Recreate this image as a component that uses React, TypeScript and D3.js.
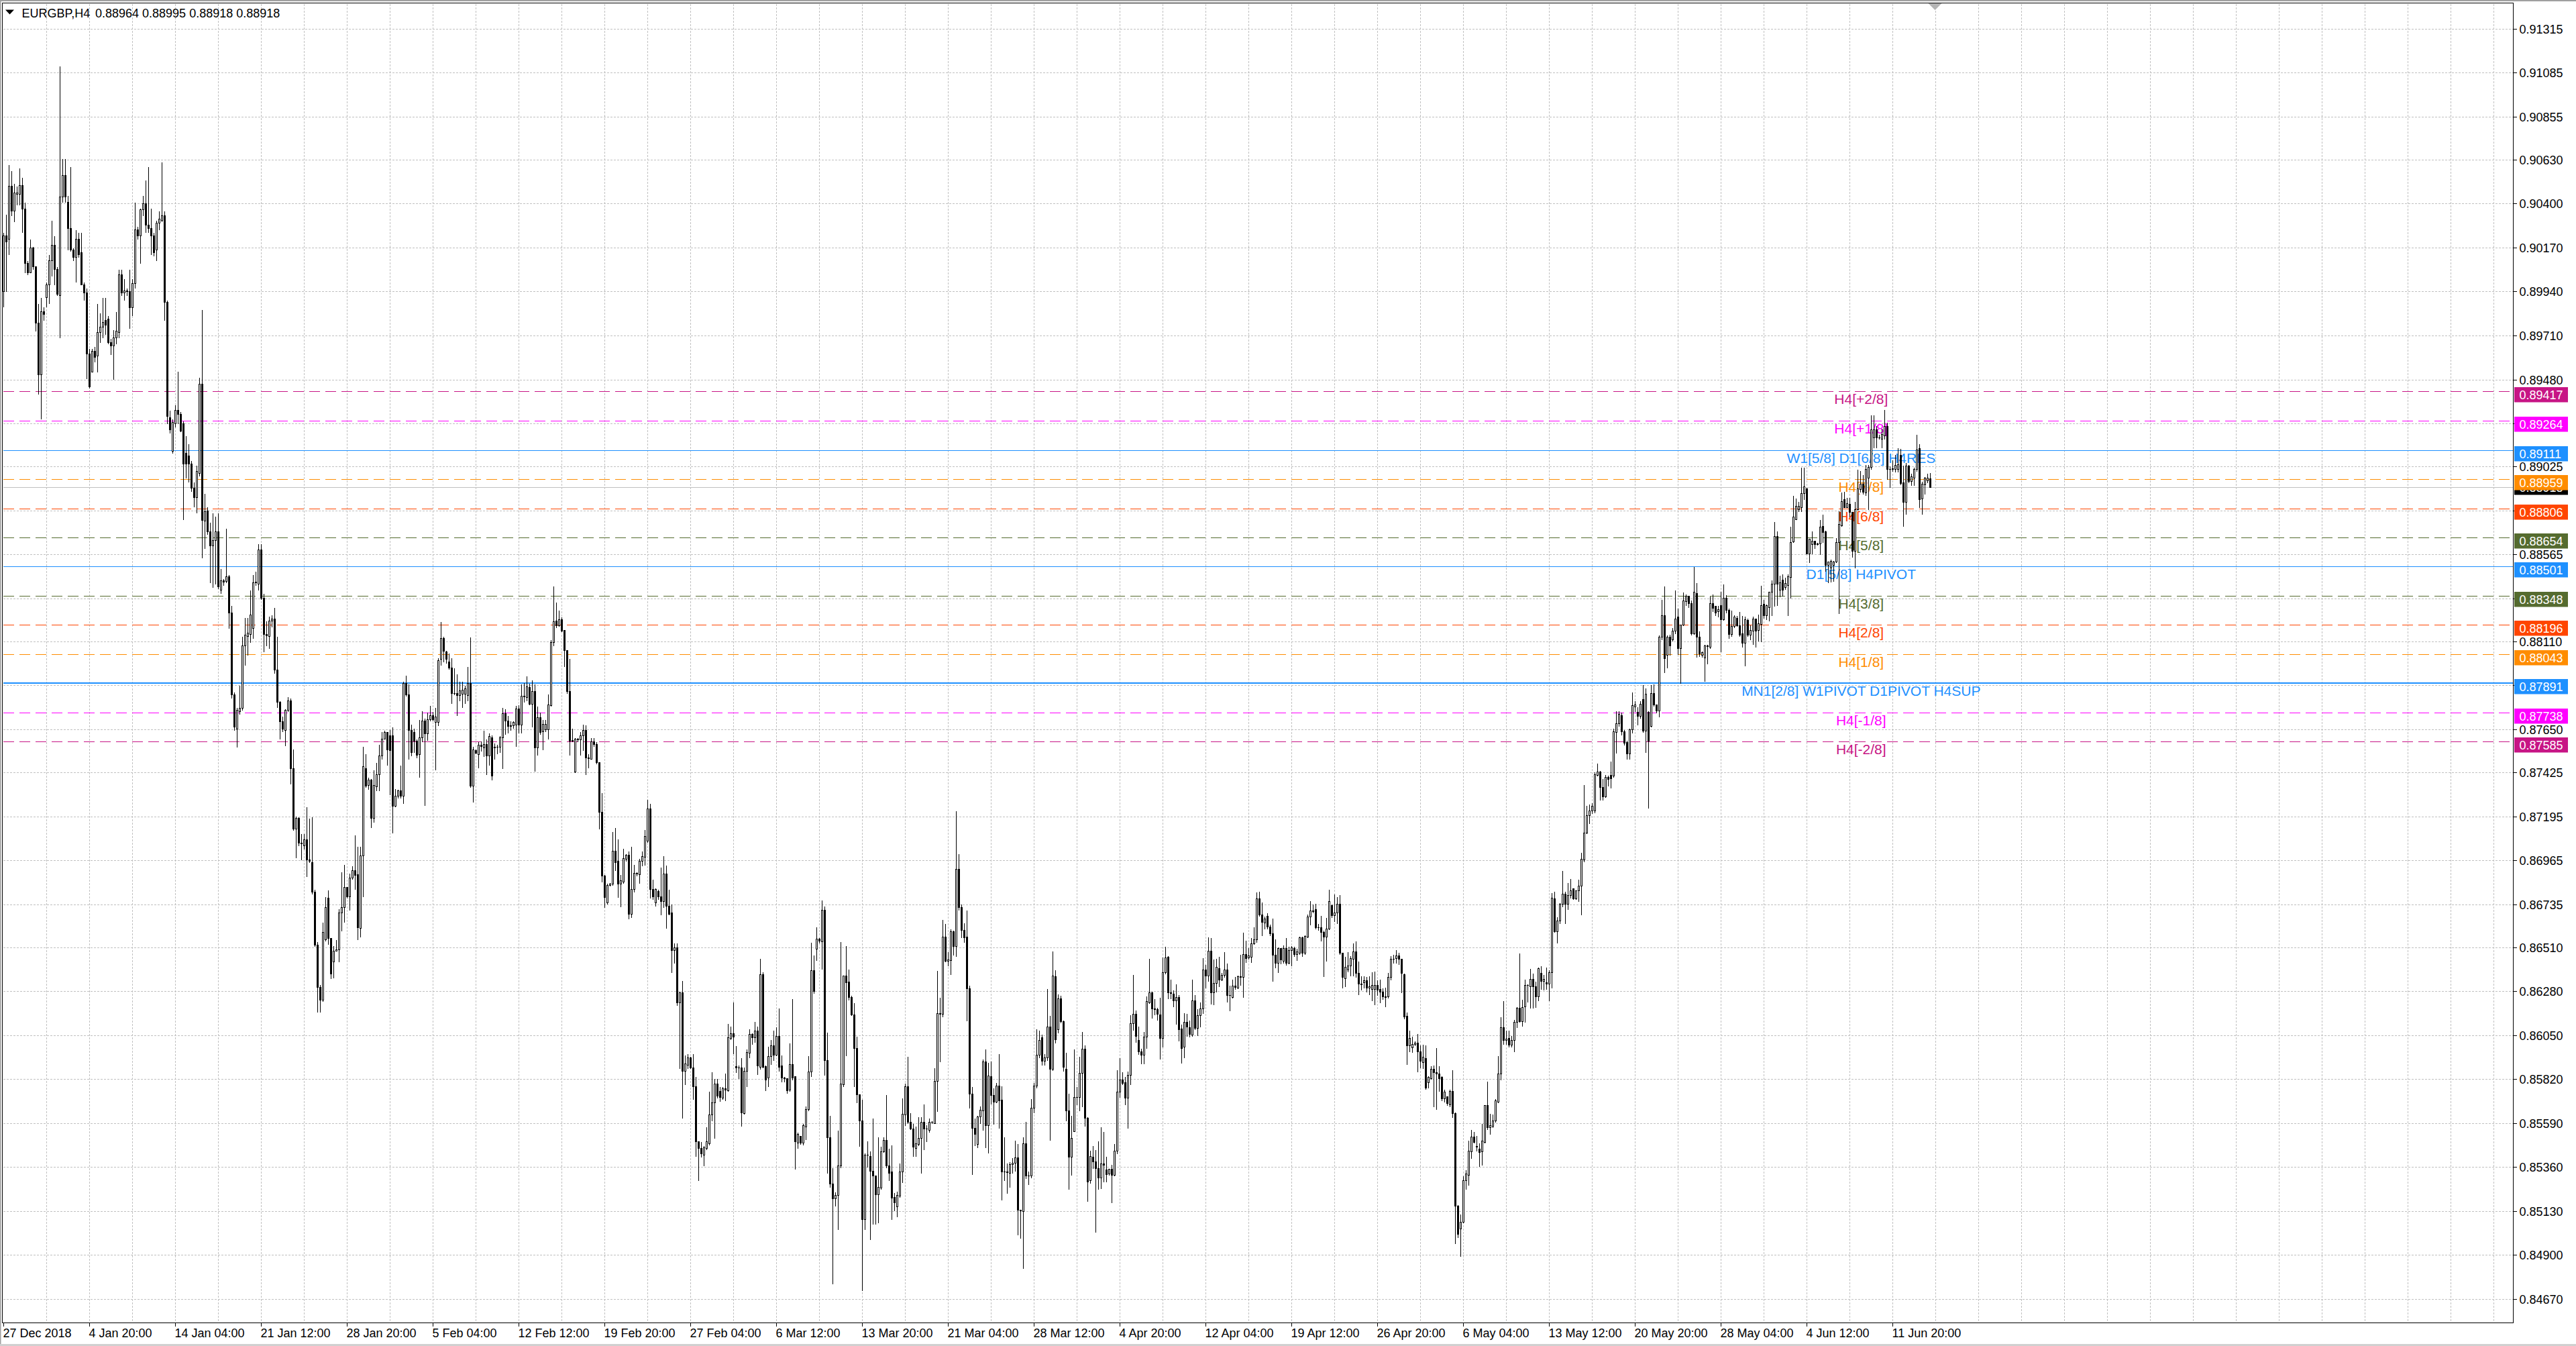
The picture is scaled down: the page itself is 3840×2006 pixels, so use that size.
import React from "react";
import * as d3 from "d3";

// ---------------- data ----------------
const symbolName = "EURGBP,H4";
const headerValues = ["0.88964", "0.88995", "0.88918", "0.88918"];
const bidPrice = 0.88918;

// H4 candles, prices in points (1e-5)
const opens = [
89943,90233,90217,90491,90362,90449,90449,90497,90372,90088,
90040,90169,90072,89775,89508,89837,89911,89975,90104,90185,
90056,89920,90436,90549,90410,90272,90159,90120,90217,90146,
89978,89933,89614,89521,89630,89604,89727,89756,89792,89798,
89675,89659,89701,89727,90030,89933,89946,89943,89856,89985,
90265,90233,90369,90401,90288,90272,90233,90159,90298,90314,
90339,89885,89282,89105,89250,89321,89298,89250,89095,89082,
89041,88912,88863,88992,89459,88741,88795,88686,88612,88638,
88686,88380,88428,88425,88451,88260,87832,87654,87745,87761,
88090,88138,88148,88180,88418,88412,88589,88338,88148,88138,
88219,88228,87961,87793,87693,87648,87751,87799,87445,87129,
87187,87058,87042,87074,86968,86955,86800,86523,86301,
86235,86552,86768,86559,86436,86490,86497,86691,86721,86825,
86775,86873,86914,86891,86610,86989,87447,87358,87386,87188,
87350,87413,87512,87602,87636,87617,87617,87250,87301,87331,
87301,87891,87833,87645,87636,87591,87521,87606,87697,87630,
87702,87725,87690,87687,88019,88127,88057,88003,87972,87838,
87840,87830,87836,87836,87830,87891,87355,87540,87521,87568,
87555,87571,87512,87609,87555,87560,87558,87609,87733,87694,
87667,87671,87676,87759,87676,87826,87818,87872,87784,87849,
87555,87714,87640,87651,87651,87776,88107,88219,88193,88224,
88168,88065,87849,87589,87429,87599,87597,87617,87648,87501,
87497,87586,87571,87478,87219,86884,86745,86837,86842,87015,
86961,86842,86853,86972,86992,86683,86814,86899,86891,86961,
86983,87068,87235,86813,86745,86804,86775,86753,86894,86728,
86690,86495,86510,86221,86273,85865,85894,85932,85882,85783,
85494,85460,85426,85460,85486,85636,85698,85797,85758,85724,
85772,85761,86034,86061,85889,85882,85880,85642,85864,85957,
86056,86039,86073,85886,86370,85889,85829,85942,85996,85949,
86047,85891,85829,85823,85766,85897,85835,85489,85523,85489,
85571,85664,85860,86391,86503,86554,86540,86706,85920,85515,
85273,85197,85214,85367,85792,86362,86331,86251,86158,85983,
85741,85602,85086,85426,85418,85341,85316,85217,85251,85443,
85503,85370,85336,85205,85154,85210,85336,85636,85783,85596,
85562,85460,85482,85511,85596,85562,85554,85596,85591,85809,
86166,86163,86566,86438,86442,86592,86515,86918,86719,86600,
86566,86295,85744,85566,85481,85623,85656,85911,85579,85834,
85736,85703,85785,85712,85337,85336,85331,85374,85382,85411,
85136,85129,85485,85315,85316,85669,85785,85946,86040,85915,
85932,86094,85875,86358,86080,86241,86123,85875,85656,85414,
85548,85727,85727,85852,85978,85619,85290,85414,85391,85355,
85307,85378,85347,85328,85351,85320,85445,85754,85817,85803,
85723,85841,86112,86163,86026,85965,85946,86043,86220,86273,
86190,86186,86157,86036,86378,86459,86273,86268,86233,86251,
86083,85989,86120,86090,86053,86233,86089,86153,86190,86392,
86362,86492,86273,86322,86402,86341,86365,86394,86260,86251,
86308,86300,86358,86354,86475,86456,86459,86529,86550,86765,
86680,86640,86674,86617,86582,86472,86429,86506,86439,86506,
86428,86494,86504,86474,86480,86561,86480,86565,86670,86702,
86710,86615,86615,86589,86565,86609,86730,86676,86690,86736,
86480,86347,86394,86414,86448,86488,86374,86319,86327,86337,
86299,86293,86293,86313,86293,86279,86253,86253,86353,86448,
86454,86468,86448,86368,86152,85997,85985,86005,86011,85965,
85910,85930,85803,85824,85874,85856,85850,85830,85719,85729,
85689,85759,85642,85159,85038,85074,85292,85320,85441,85521,
85470,85457,85441,85493,85683,85568,85574,85602,85703,85850,
86091,86025,86037,86001,86025,86118,86192,86122,86202,86313,
86307,86343,86307,86253,86374,86333,86325,86319,86380,86766,
86595,86650,86736,86791,86736,86783,86817,86766,86807,86831,
86968,87109,87200,87226,87226,87411,87427,87347,87300,87401,
87412,87407,87634,87681,87725,87640,87584,87522,87650,87768,
87741,87721,87807,87642,87741,87669,87838,87779,87747,88133,
88246,88039,88133,88120,88167,88238,88073,88198,88321,88347,
88308,88151,88363,88133,88039,88026,88089,88081,88311,88296,
88269,88300,88227,88336,88274,88148,88191,88233,88195,88152,
88101,88222,88144,88164,88230,88170,88202,88305,88246,88290,
88368,88410,88661,88379,88434,88394,88405,88446,88634,88750,
88802,88810,88885,88911,88571,88618,88637,88618,88622,88712,
88684,88509,88496,88509,88528,88629,88716,88853,88813,88828,
88786,88582,88802,88907,88935,88888,88966,89021,89178,89217,
89178,89170,89186,89236,89013,89012,89010,89013,89084,88943,
88841,89029,88947,88966,89010,89120,88857,88932,88951,88964,
];

const highs = [
90249,90346,90604,90572,90507,90491,90588,90539,90410,90104,
90217,90178,90072,89879,89911,89862,89991,90136,90314,90233,
90072,91120,90636,90636,90443,90594,90169,90265,90249,90249,
89991,89959,89643,89643,89653,89879,89830,89911,89911,89814,
89695,89740,89837,90056,90056,90007,89959,90056,90007,90410,
90281,90378,90443,90523,90594,90378,90249,90314,90362,90620,
90362,89895,89321,89276,89347,89524,89314,89266,89186,89144,
89057,88944,89031,89492,89846,88886,88815,88734,88783,88767,
88783,88493,88438,88702,88460,88299,87848,87767,87880,88138,
88235,88235,88380,88460,88477,88622,88622,88364,88219,88244,
88251,88289,88138,87800,87719,87758,87822,87816,87548,87197,
87193,87107,87107,87245,87187,87194,86816,86542,86317,
86644,86775,86811,86559,86518,86552,86714,86904,86945,86829,
86899,86938,87100,87038,87038,87563,87524,87401,87393,87440,
87478,87571,87640,87648,87640,87651,87663,87342,87339,87463,
87903,87934,87887,87679,87656,87602,87702,87748,87710,87741,
87775,87744,87764,88026,88216,88139,88065,88050,88026,87972,
87941,87903,87903,87880,87980,88135,87563,87548,87586,87589,
87648,87602,87633,87620,87579,87571,87617,87764,87759,87725,
87694,87697,87775,87779,87887,87895,87931,87892,87911,87887,
87772,87741,87702,87702,87836,88119,88402,88315,88274,88238,
88173,88068,88022,87656,87609,87609,87640,87679,87676,87524,
87609,87609,87586,87481,87321,86891,86845,86848,87115,87138,
87077,86891,87030,87000,87015,87038,86945,86907,86976,87015,
87127,87286,87263,86867,86821,86813,86932,86991,86940,86813,
86736,86532,86532,86282,86336,85949,85954,85942,85954,85835,
85500,85494,85472,85571,85758,85860,85826,85823,85783,85783,
85852,86112,86098,86226,85996,85894,85932,85886,85979,86085,
86064,86124,86098,86452,86384,85894,85993,86027,86078,86095,
86192,85949,85835,85829,86010,86243,85840,85545,85528,85588,
85681,85945,86537,86472,86617,86561,86758,86728,86068,85630,
85358,85231,85554,86540,86362,86520,86396,86260,86221,86047,
85741,85715,85435,85499,85447,85619,85316,85520,85469,85520,
85741,85460,85477,85227,85234,85384,85724,85800,85942,85647,
85591,85574,85625,85625,85690,85584,85619,85605,85880,86391,
86251,86656,86634,86489,86609,86600,87224,86999,86736,86639,
86707,86311,85781,85619,85633,85680,85925,85978,85908,85915,
85774,85803,85955,85785,85519,85382,85391,85409,85503,85485,
85140,85519,85599,85341,85720,85803,86086,86076,86056,85955,
86295,86153,86492,86394,86268,86260,86130,85962,85747,85633,
85978,85781,85942,86072,85999,85626,85449,85472,85454,85499,
85572,85546,85418,85355,85374,85485,85871,85932,85861,85834,
85865,86157,86367,86184,86099,85982,86069,86257,86452,86282,
86244,86197,86251,86459,86515,86466,86345,86287,86318,86264,
86110,86170,86166,86130,86345,86264,86190,86224,86456,86421,
86566,86560,86448,86452,86462,86381,86488,86429,86311,86345,
86358,86365,86475,86590,86546,86510,86560,86617,86801,86805,
86748,86674,86690,86633,86663,86553,86513,86510,86523,86560,
86515,86521,86515,86504,86569,86569,86575,86686,86756,86736,
86742,86635,86676,86601,86666,86813,86736,86791,86776,86787,
86484,86464,86488,86468,86535,86545,86440,86363,86363,86359,
86363,86384,86388,86339,86343,86299,86303,86380,86468,86474,
86500,86484,86454,86374,86172,86077,86045,86021,86061,86001,
86005,86001,85840,85890,85896,85985,85890,85840,85769,85729,
85769,85870,85648,85165,85114,85316,85346,85501,85558,85548,
85527,85487,85588,85689,85810,85642,85638,85719,85944,86146,
86233,86077,86077,86051,86132,86202,86480,86239,86343,86319,
86400,86374,86333,86408,86414,86368,86408,86394,86797,86803,
86670,86746,86911,86803,86851,86871,86823,86811,86867,87008,
87361,87254,87260,87266,87427,87476,87435,87395,87415,87411,
87486,87658,87747,87747,87740,87650,87595,87658,87846,87799,
87768,87799,87885,87869,87747,87885,87888,87783,88144,88332,
88402,88144,88148,88183,88379,88285,88202,88371,88358,88347,
88327,88504,88418,88164,88061,88097,88097,88347,88358,88300,
88300,88374,88410,88355,88285,88274,88249,88246,88269,88246,
88242,88233,88198,88242,88233,88253,88405,88332,88305,88374,
88434,88739,88687,88457,88465,88446,88465,88712,88875,88860,
88844,89021,89021,88916,88645,88687,88640,88629,88750,88778,
88692,88531,88543,88535,88653,88794,88891,88896,88864,88864,
88791,88844,89013,89005,88982,89037,89037,89295,89295,89240,
89193,89225,89324,89256,89029,89060,89088,89123,89120,89032,
89045,89037,88990,89021,89193,89146,88947,88974,88990,88995,
];

const lows = [
89862,89943,90136,90339,90307,90394,90394,90249,90040,90030,
90040,90056,89733,89405,89276,89792,89862,89879,90024,89975,
89920,89701,90410,90410,90159,90153,90104,89991,90120,89975,
89895,89485,89437,89521,89572,89521,89675,89701,89717,89669,
89611,89482,89669,89701,89920,89895,89920,89750,89814,89959,
90217,90088,90339,90249,90249,90136,90127,90104,90265,90307,
89792,89250,89202,89095,89234,89250,89208,88750,88966,88944,
88895,88815,88783,88976,88547,88596,88670,88418,88393,88412,
88386,88364,88406,88418,88180,87816,87648,87558,87729,87751,
87986,88041,88106,88128,88406,88380,88331,88057,88090,88073,
88186,87945,87767,87600,87638,87567,87745,87364,87123,86978,
87042,86968,87026,86881,86955,86791,86517,86172,86172,
86227,86544,86528,86346,86351,86490,86436,86598,86644,86768,
86706,86868,86814,86552,86567,86775,87347,87339,87138,87166,
87331,87331,87494,87602,87463,87308,87108,87247,87293,87293,
87262,87826,87494,87512,87532,87501,87401,87586,87254,87594,
87694,87694,87440,87671,87988,88003,87996,87965,87787,87833,
87722,87802,87764,87787,87802,87347,87270,87524,87450,87537,
87509,87416,87463,87386,87494,87524,87532,87447,87625,87633,
87648,87656,87563,87633,87633,87795,87802,87779,87663,87432,
87517,87625,87543,87640,87602,87772,88088,88185,88189,88161,
87980,87841,87517,87586,87424,87586,87517,87540,87416,87450,
87494,87563,87470,87131,86853,86721,86737,86833,86837,86914,
86771,86724,86845,86961,86660,86667,86799,86884,86845,86938,
86940,87059,86770,86762,86728,86762,86680,86719,86612,86680,
86379,86430,86209,85877,85619,85792,85877,85877,85715,85418,
85290,85414,85370,85452,85477,85605,85511,85724,85704,85715,
85710,85758,86030,85954,85857,85826,85574,85639,85783,85932,
86005,86013,85846,85874,85880,85761,85783,85897,85920,85945,
85864,85806,85806,85749,85758,85818,85350,85460,85482,85477,
85506,85656,85835,86272,86442,86532,86396,85843,85329,85256,
84751,85159,85035,85358,85783,85945,86234,86153,85783,85698,
85469,84717,85035,85363,84984,85064,85064,85069,85244,85438,
85358,85290,85086,85132,85103,85205,85282,85579,85588,85557,
85418,85418,85472,85329,85452,85494,85545,85588,85588,85653,
85911,86146,86435,86413,86370,86472,86464,86707,86561,86537,
86126,85669,85324,85472,85462,85589,85556,85462,85435,85691,
85586,85700,85566,85190,85290,85226,85257,85331,85341,85006,
84988,84831,85301,85270,85304,85646,85777,85935,85895,85895,
85919,85503,85868,86009,86063,86116,85865,85602,85247,85320,
85546,85687,85656,85677,85575,85183,85277,85355,85022,85247,
85250,85284,85284,85320,85176,85317,85431,85727,85794,85687,
85566,85794,86076,86013,85951,85901,85901,85982,86217,86139,
86157,86130,85928,85991,86372,86241,86244,86201,86110,86022,
85905,85932,86045,86043,86045,86080,86049,86096,86166,86300,
86335,86214,86210,86278,86304,86338,86354,86224,86179,86247,
86291,86295,86311,86251,86432,86448,86432,86526,86537,86674,
86573,86607,86609,86573,86335,86405,86381,86425,86429,86419,
86424,86414,86464,86444,86474,86464,86474,86561,86629,86690,
86609,86601,86545,86357,86440,86605,86666,86646,86635,86474,
86299,86307,86384,86363,86363,86353,86263,86287,86299,86279,
86263,86233,86212,86259,86222,86239,86202,86247,86339,86428,
86428,86420,86273,86138,85900,85965,85961,85997,85860,85880,
85876,85769,85775,85820,85678,85662,85759,85709,85703,85683,
85678,85622,84963,84994,84893,85070,85245,85266,85407,85487,
85447,85366,85372,85487,85558,85533,85568,85598,85699,85816,
86005,86005,85991,85991,85965,86091,86118,86097,86118,86226,
86192,86192,86198,86233,86293,86287,86293,86233,86299,86589,
86535,86635,86722,86635,86710,86770,86762,86762,86750,86682,
86958,87105,87159,87210,87214,87407,87280,87280,87294,87355,
87345,87399,87528,87669,87620,87569,87496,87496,87631,87744,
87674,87710,87634,87530,87240,87663,87772,87736,87716,88120,
87948,87971,88039,88112,88151,88042,87893,88195,88300,88289,
88144,88148,88029,88034,88029,87901,87995,88073,88269,88246,
88238,88057,88222,88261,88128,88139,88183,88191,88136,88081,
87982,88136,88120,88097,88081,88112,88108,88233,88227,88217,
88246,88296,88300,88343,88347,88383,88246,88336,88629,88747,
88791,88791,88853,88571,88524,88571,88598,88614,88567,88629,
88477,88418,88421,88426,88524,88258,88712,88810,88810,88763,
88551,88496,88797,88891,88880,88875,88802,89010,89123,89123,
89170,89123,89170,88958,88916,89001,88998,88998,88932,88712,
88775,88943,88927,88927,89001,88810,88775,88880,88943,88918,
];

const closes = [
90233,90201,90491,90362,90459,90459,90497,90372,90088,90040,
90169,90072,89775,89508,89837,89824,89975,90104,90185,90056,
89927,90436,90549,90436,90272,90159,90120,90217,90136,89978,
89933,89614,89443,89630,89598,89727,89756,89779,89766,89675,
89659,89701,89733,90030,89933,89946,89943,89856,89985,90265,
90233,90369,90401,90288,90272,90233,90146,90298,90320,90339,
89885,89289,89218,89256,89321,89298,89211,89041,89041,89041,
88912,88863,89002,89459,88744,88792,88686,88612,88638,88686,
88396,88428,88422,88451,88260,87832,87664,87751,87761,88090,
88144,88154,88251,88418,88422,88589,88338,88148,88141,88219,
88228,87961,87793,87693,87654,87751,87799,87445,87129,87187,
87058,87052,87074,86968,86961,86800,86523,86301,86236,
86590,86721,86559,86371,86490,86497,86691,86721,86825,86775,
86873,86914,86887,86613,86989,87455,87355,87386,87185,87358,
87413,87512,87602,87636,87543,87540,87250,87301,87331,87301,
87891,87833,87645,87532,87591,87517,87606,87697,87630,87702,
87725,87702,87717,88011,88127,88062,88019,87972,87838,87841,
87830,87855,87857,87864,87891,87355,87543,87528,87568,87563,
87571,87512,87614,87409,87560,87558,87609,87733,87697,87667,
87671,87687,87759,87676,87826,87821,87875,87784,87849,87555,
87714,87636,87679,87679,87779,88107,88216,88193,88224,88165,
88065,87849,87589,87594,87599,87597,87617,87648,87501,87500,
87586,87571,87478,87219,86884,86771,86837,86842,87015,86956,
86842,86860,86976,86992,86683,86814,86899,86896,86961,86987,
87093,87235,86813,86775,86813,86775,86753,86894,86728,86685,
86495,86510,86221,86273,85865,85903,85932,85880,85783,85494,
85460,85431,85464,85494,85636,85698,85797,85732,85727,85772,
85766,86039,86061,86044,85882,85880,85647,85864,85962,86056,
86039,86073,85891,86370,85886,85818,85942,85996,85949,86047,
85886,85829,85824,85763,85897,85829,85494,85533,85489,85579,
85664,85860,86391,86282,86554,86544,86706,85920,85515,85273,
85197,85214,85367,85795,86362,86328,86248,86158,85983,85741,
85602,85086,85426,85423,85341,85316,85217,85256,85443,85503,
85370,85329,85200,85176,85214,85336,85639,85783,85596,85562,
85465,85486,85511,85596,85562,85561,85596,85595,85812,86166,
86163,86566,86438,86445,86592,86515,86918,86719,86600,86561,
86295,85744,85566,85532,85623,85660,85911,85579,85837,85736,
85703,85785,85709,85337,85336,85333,85374,85384,85411,85136,
85132,85485,85315,85316,85669,85785,85946,86026,85915,85935,
86094,85875,86362,86029,86241,86123,85884,85656,85414,85512,
85727,85726,85852,85978,85619,85284,85418,85391,85355,85307,
85378,85371,85324,85351,85320,85445,85754,85817,85801,85723,
85844,86112,86163,86045,85965,85946,86043,86228,86273,86190,
86186,86161,86036,86378,86455,86273,86271,86233,86251,86080,
85982,86120,86094,86056,86233,86089,86153,86190,86392,86362,
86492,86273,86324,86409,86341,86365,86394,86260,86259,86308,
86302,86358,86355,86475,86452,86466,86529,86550,86765,86680,
86644,86660,86617,86582,86472,86429,86506,86445,86506,86429,
86494,86508,86474,86488,86561,86480,86569,86670,86702,86698,
86615,86613,86589,86565,86609,86750,86676,86690,86736,86480,
86353,86408,86414,86454,86488,86374,86319,86317,86337,86299,
86307,86313,86313,86287,86279,86253,86251,86353,86448,86450,
86468,86448,86374,86146,85997,86037,86005,86009,85965,85916,
85936,85775,85830,85874,85856,85850,85824,85719,85755,85695,
85759,85642,85159,85010,85074,85292,85326,85447,85521,85493,
85465,85437,85497,85683,85568,85578,85602,85709,85850,86091,
86025,86031,86001,86025,86118,86192,86122,86198,86313,86311,
86343,86307,86253,86400,86333,86343,86319,86380,86770,86595,
86650,86736,86791,86736,86783,86807,86766,86807,86831,86972,
87109,87200,87226,87250,87415,87427,87347,87300,87401,87391,
87392,87638,87681,87732,87640,87580,87522,87650,87775,87779,
87721,87783,87642,87835,87591,87838,87779,87747,88133,88246,
88023,88133,88089,88167,88230,88073,88198,88324,88347,88308,
88151,88368,88133,88045,88054,88089,88085,88311,88285,88261,
88277,88227,88336,88274,88148,88191,88238,88195,88144,88101,
88227,88144,88170,88230,88164,88206,88300,88246,88300,88368,
88410,88661,88410,88418,88379,88415,88449,88629,88763,88817,
88817,88885,88919,88571,88645,88637,88618,88622,88708,88681,
88509,88528,88531,88528,88629,88723,88844,88813,88833,88786,
88582,88802,88911,88935,88891,89013,89021,89217,89217,89178,
89176,89193,89236,89013,89012,89015,89032,89037,88938,88841,
89029,88947,88974,89013,89115,88853,88935,88966,88966,88918,
];

const timeLabels = [
  "27 Dec 2018", "4 Jan 20:00", "14 Jan 04:00", "21 Jan 12:00", "28 Jan 20:00",
  "5 Feb 04:00", "12 Feb 12:00", "19 Feb 20:00", "27 Feb 04:00", "6 Mar 12:00",
  "13 Mar 20:00", "21 Mar 04:00", "28 Mar 12:00", "4 Apr 20:00", "12 Apr 04:00",
  "19 Apr 12:00", "26 Apr 20:00", "6 May 04:00", "13 May 12:00", "20 May 20:00",
  "28 May 04:00", "4 Jun 12:00", "11 Jun 20:00",
];

const priceTicks = [
  0.91315, 0.91085, 0.90855, 0.9063, 0.904, 0.9017, 0.8994, 0.8971, 0.8948, 0.8925,
  0.89025, 0.88795, 0.88565, 0.88335, 0.8811, 0.8788, 0.8765, 0.87425, 0.87195, 0.86965,
  0.86735, 0.8651, 0.8628, 0.8605, 0.8582, 0.8559, 0.8536, 0.8513, 0.849, 0.8467,
];

const levelPrices = [
  0.89417, 0.89264, 0.89111, 0.88959, 0.88806, 0.88654, 0.88501,
  0.88348, 0.88196, 0.88043, 0.87891, 0.87738, 0.87585,
];
const levelTexts = [
  "H4[+2/8]", "H4[+1/8]", "W1[5/8] D1[6/8] H4RES", "H4[7/8]", "H4[6/8]", "H4[5/8]",
  "D1[5/8] H4PIVOT", "H4[3/8]", "H4[2/8]", "H4[1/8]", "MN1[2/8] W1PIVOT D1PIVOT H4SUP",
  "H4[-1/8]", "H4[-2/8]",
];

// ---------------- styles ----------------
const levelColors = [
  "#C71585", "#FF00FF", "#1E90FF", "#FF8C00", "#FF4500", "#556B2F", "#1E90FF",
  "#556B2F", "#FF4500", "#FF8C00", "#1E90FF", "#FF00FF", "#C71585",
];
const levelSolid = [false, false, true, false, false, false, true, false, false, false, true, false, false];
const levelWidths = [1, 1, 1, 1, 1, 1, 1, 1, 1, 1, 2, 1, 1];

const FONT = "'Liberation Sans', Arial, sans-serif";
const GRID = "#c0c0c0";

export default function App() {
  const W = 3840;
  const H = 2006;
  const plot = { left: 3.5, top: 4.5, right: 3746.5, bottom: 1971.5 };
  const BAR = 4;
  const n = opens.length;

  const x = d3.scaleLinear().domain([0, 1]).range([5.5, 5.5 + BAR]);
  const y = d3.scaleLinear().domain([0.8467, 0.91315]).range([1936, 42.7]);
  const py = (v: number) => Math.round(y(v)) + 0.5;

  const candles = d3.range(n).map((i) => {
    const o = opens[i] / 1e5;
    const c = closes[i] / 1e5;
    const h = Math.max(highs[i], opens[i], closes[i]) / 1e5;
    const l = Math.min(lows[i], opens[i], closes[i]) / 1e5;
    return { i, o, h, l, c };
  });

  const gridBars = d3.range(16, Math.floor((plot.right - x(0)) / BAR), 16);
  const labelBars = timeLabels.map((_, j) => j * 32);
  const LEVEL_TEXT_BAR = 692.2;

  const bidY = py(bidPrice);

  return (
    <div style={{ position: "fixed", left: 0, top: 0, width: W, height: H, background: "#fff", overflow: "hidden" }}>
      <svg width={W} height={H} viewBox={`0 0 ${W} ${H}`} style={{ display: "block" }}>
        <rect x={0} y={0} width={W} height={H} fill="#ffffff" />

        {/* grid */}
        <g shapeRendering="crispEdges" stroke={GRID} strokeWidth={1} strokeDasharray="3,2">
          {priceTicks.map((v) => (
            <line key={"hg" + v} x1={plot.left + 1} x2={plot.right} y1={py(v)} y2={py(v)} />
          ))}
          {gridBars.map((k) => (
            <line key={"vg" + k} x1={x(k)} x2={x(k)} y1={plot.top + 1} y2={plot.bottom} />
          ))}
        </g>

        {/* bid line */}
        <line x1={plot.left + 1} x2={plot.right} y1={bidY} y2={bidY} stroke="#c0c0c0" strokeWidth={1} shapeRendering="crispEdges" />

        {/* Murrey levels */}
        <g shapeRendering="crispEdges">
          {levelPrices.map((v, j) => {
            const ly = levelWidths[j] === 2 ? Math.round(y(v)) : py(v);
            return (
              <line
                key={"lv" + j}
                x1={x(0) - 0.5}
                x2={plot.right}
                y1={ly}
                y2={ly}
                stroke={levelColors[j]}
                strokeWidth={levelWidths[j]}
                strokeDasharray={levelSolid[j] ? undefined : "16,8"}
              />
            );
          })}
        </g>
        <g fontFamily={FONT} fontSize={21} textAnchor="middle">
          {levelPrices.map((v, j) => (
            <text key={"lt" + j} x={x(LEVEL_TEXT_BAR)} y={py(v) + 18} fill={levelColors[j]}>
              {levelTexts[j]}
            </text>
          ))}
        </g>

        {/* candles */}
        <g shapeRendering="crispEdges">
          {candles.map((d) => {
            const cx = x(d.i);
            const top = py(Math.max(d.o, d.c));
            const bot = py(Math.min(d.o, d.c));
            const bull = d.c >= d.o;
            return (
              <g key={"c" + d.i}>
                <line x1={cx} x2={cx} y1={py(d.h)} y2={py(d.l)} stroke="#000" strokeWidth={1} />
                {bot - top < 1 ? (
                  <line x1={cx - 1.5} x2={cx + 1.5} y1={top} y2={top} stroke="#000" strokeWidth={1} />
                ) : (
                  <rect x={cx - 1} y={top} width={2} height={bot - top} fill={bull ? "#fff" : "#000"} stroke="#000" strokeWidth={1} />
                )}
              </g>
            );
          })}
        </g>

        {/* outer window edges */}
        <rect x={0} y={0} width={W} height={2} fill="#a0a0a0" />
        <rect x={0} y={0} width={1.5} height={H} fill="#a0a0a0" />
        <rect x={0} y={H - 3} width={W} height={3} fill="#d0d0d0" />

        {/* frame */}
        <rect x={plot.left} y={plot.top} width={plot.right - plot.left} height={plot.bottom - plot.top} fill="none" stroke="#000" strokeWidth={1} shapeRendering="crispEdges" />

        {/* chart shift marker */}
        <polygon points={`${x(n - 1) + 7 - 10},5 ${x(n - 1) + 7 + 10},5 ${x(n - 1) + 7},15`} fill="#b4b4b4" />

        {/* price axis */}
        <g fontFamily={FONT} fontSize={18} fill="#000">
          {priceTicks.map((v) => (
            <g key={"pt" + v}>
              <line x1={plot.right} x2={plot.right + 5} y1={py(v)} y2={py(v)} stroke="#000" shapeRendering="crispEdges" />
              <text x={3755.5} y={py(v) + 6.5}>{v.toFixed(5)}</text>
            </g>
          ))}
        </g>

        {/* bid label (behind level labels) */}
        <g fontFamily={FONT} fontSize={18}>
          <rect x={3748} y={bidY - 11} width={80} height={22} fill="#000" />
          <text x={3755.5} y={bidY + 6.5} fill="#fff">{bidPrice.toFixed(5)}</text>
        </g>

        {/* level labels on axis */}
        <g fontFamily={FONT} fontSize={18}>
          {levelPrices.map((v, j) => {
            const ly = py(v);
            return (
              <g key={"lb" + j}>
                <rect x={3748} y={ly - 6.5} width={80} height={22.5} fill={levelColors[j]} />
                <text x={3755.5} y={ly + 11.5} fill="#fff">{v.toFixed(5)}</text>
              </g>
            );
          })}
        </g>

        {/* time axis */}
        <g fontFamily={FONT} fontSize={18} fill="#000">
          {labelBars.map((k, j) => (
            <g key={"tl" + j}>
              <line x1={x(k)} x2={x(k)} y1={plot.bottom} y2={plot.bottom + 5} stroke="#000" shapeRendering="crispEdges" />
              <text x={x(k) - 1} y={1993}>{timeLabels[j]}</text>
            </g>
          ))}
        </g>

        {/* header */}
        <polygon points="8,14.5 21,14.5 14.5,21.5" fill="#000" />
        <g fontFamily={FONT} fontSize={18} fill="#000">
          <text x={32.5} y={25.5}>{symbolName}</text>
          <text x={142} y={25.5}>{headerValues.join(" ")}</text>
        </g>
      </svg>
    </div>
  );
}
